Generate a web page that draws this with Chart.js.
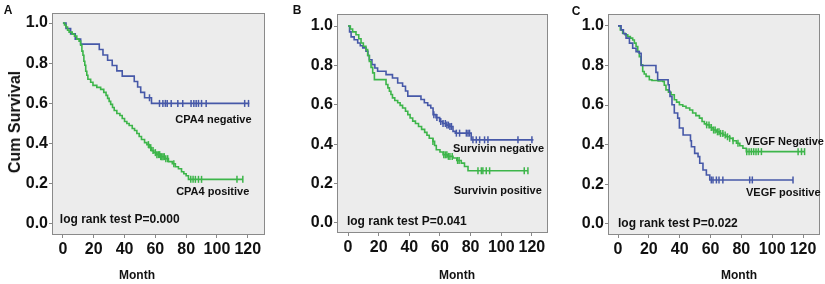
<!DOCTYPE html>
<html>
<head>
<meta charset="utf-8">
<script src="https://cdn.jsdelivr.net/npm/chart.js@4/dist/chart.umd.min.js"></script>
<style>
html, body { margin: 0; padding: 0; background: #fff; }
#wrap { position: relative; width: 825px; height: 284px; overflow: hidden; font-family: 'Liberation Sans', Arial, sans-serif; }
canvas.panel { position: absolute; top: 0; }
.lbl { position: absolute; font-weight: bold; color: #111; white-space: nowrap; line-height: 1; }
.mid { transform: translate(-50%, -50%); }
</style>
</head>
<body>
<div id="wrap">
  <canvas id="cA" class="panel" width="280" height="284" style="left:0px"></canvas>
  <canvas id="cB" class="panel" width="275" height="284" style="left:280px"></canvas>
  <canvas id="cC" class="panel" width="270" height="284" style="left:555px"></canvas>

  <div class="lbl mid" style="left:8px;top:10px;font-size:12px">A</div>
  <div class="lbl mid" style="left:297px;top:10px;font-size:12px">B</div>
  <div class="lbl mid" style="left:576px;top:11px;font-size:12px">C</div>

  <div class="lbl" style="left:15px;top:122px;font-size:16px;transform:translate(-50%,-50%) rotate(-90deg)">Cum Survival</div>

  <div class="lbl mid" style="left:137px;top:275px;font-size:12px">Month</div>
  <div class="lbl mid" style="left:457px;top:275px;font-size:12px">Month</div>
  <div class="lbl mid" style="left:739px;top:275px;font-size:12px">Month</div>
</div>
<script>
// Kaplan-Meier survival curves, three panels (CPA4 / Survivin / VEGF)
const xTicks = [0, 20, 40, 60, 80, 100, 120];
const yTicks = [0, 0.2, 0.4, 0.6, 0.8, 1.0];

// Panel A - CPA4
const cpaNegTime = [0, 2, 5, 8, 11.5, 23.6, 26, 29, 32, 35, 38.5, 46.3, 48.5, 50.5, 53, 57.5, 121];
const cpaNegSurv = [1, 0.973, 0.946, 0.92, 0.895, 0.868, 0.841, 0.815, 0.789, 0.762, 0.736, 0.709, 0.682, 0.655, 0.628, 0.60, 0.60];
const cpaNegCensor = [56.2, 62.7, 64.9, 66.5, 67.7, 70.3, 74.6, 77.8, 83.2, 85, 86.5, 88, 90, 93, 118, 120.5];

const cpaPosTime = [0, 1, 2, 3, 4, 6, 7.5, 9, 10.5, 11.5, 12.3, 13, 13.6, 14.2, 14.8, 15.5, 16.2, 18, 19.5, 22, 24.5, 26.5, 28, 29, 30, 31, 32.2, 33.3, 35, 37, 38.5, 40, 41.5, 43, 45, 46.5, 48, 49.5, 51, 53, 54.5, 56, 57.5, 59, 61, 63.5, 66, 68.5, 71, 73, 75, 77, 78.5, 80, 81.5, 116.8];
const cpaPosSurv = [1, 0.99, 0.98, 0.965, 0.955, 0.945, 0.935, 0.92, 0.91, 0.89, 0.86, 0.84, 0.81, 0.79, 0.76, 0.74, 0.72, 0.705, 0.69, 0.68, 0.67, 0.655, 0.64, 0.625, 0.61, 0.595, 0.58, 0.565, 0.55, 0.54, 0.525, 0.51, 0.5, 0.49, 0.475, 0.465, 0.45, 0.435, 0.42, 0.405, 0.395, 0.38, 0.365, 0.355, 0.345, 0.335, 0.325, 0.31, 0.3, 0.285, 0.275, 0.26, 0.25, 0.24, 0.222, 0.222];
const cpaPosCensor = [55.5, 57, 58.5, 60, 61, 62, 62.8, 63.5, 64.2, 65, 65.8, 66.8, 68, 72, 83, 84.5, 86, 88, 90, 113, 116.8];

// Panel B - Survivin
const survNegTime = [0, 1, 2, 4, 6.3, 8, 9.6, 11.7, 13, 13.9, 15.6, 17.5, 19.3, 24.8, 29, 32.4, 35.6, 37.5, 39, 47.6, 49.8, 52, 54, 55.5, 57.4, 59.8, 61.7, 64, 66.3, 68.5, 70, 80.4, 121];
const survNegSurv = [1, 0.97, 0.945, 0.93, 0.914, 0.9, 0.889, 0.872, 0.85, 0.829, 0.804, 0.787, 0.77, 0.753, 0.736, 0.711, 0.694, 0.67, 0.644, 0.627, 0.61, 0.597, 0.584, 0.55, 0.535, 0.515, 0.505, 0.497, 0.49, 0.465, 0.456, 0.422, 0.422];
const survNegCensor = [56, 58, 60.5, 62, 63.5, 64.5, 65.5, 66.5, 67.5, 70.7, 72.8, 77.2, 78.3, 79.3, 81.5, 83.7, 85.9, 89.1, 91.3, 110.9, 120];

const survPosTime = [0, 1.5, 3, 5.2, 7, 8.5, 10, 11.7, 12.8, 13.9, 15, 16.1, 17.2, 24.8, 26, 27, 28, 29, 30.5, 32.4, 34, 35.6, 37.5, 39, 40.5, 42.2, 44, 46, 48, 50, 51.5, 53, 55.4, 56.5, 57.6, 60, 62, 65, 68.5, 71, 73.9, 76, 78.3, 117.4];
const survPosSurv = [1, 0.985, 0.97, 0.956, 0.935, 0.914, 0.897, 0.88, 0.85, 0.82, 0.79, 0.762, 0.728, 0.703, 0.686, 0.669, 0.652, 0.635, 0.622, 0.61, 0.597, 0.584, 0.567, 0.55, 0.533, 0.517, 0.505, 0.49, 0.475, 0.46, 0.445, 0.43, 0.414, 0.393, 0.372, 0.36, 0.346, 0.338, 0.33, 0.317, 0.304, 0.287, 0.265, 0.265];
const survPosCensor = [55.4, 62.5, 63.5, 64.5, 65.5, 66.5, 68, 71.5, 72.5, 84.8, 87, 88, 90.2, 92.4, 115, 117.4];

// Panel C - VEGF
const vegfNegTime = [0, 1.5, 3, 4.5, 6.3, 8, 9.5, 10.6, 11.7, 12.8, 13.8, 14.9, 16, 17, 18.2, 20.3, 22, 26, 29, 30, 31.1, 32.7, 34.4, 36.5, 38, 39.8, 42, 44.1, 46.5, 48.4, 50.5, 52.8, 54.5, 56, 57.3, 59.5, 61.6, 64, 66, 68.1, 70, 72.4, 74.5, 76.8, 79, 81, 83.2, 121];
const vegfNegSurv = [1, 0.98, 0.963, 0.955, 0.946, 0.938, 0.929, 0.913, 0.896, 0.87, 0.845, 0.803, 0.77, 0.757, 0.745, 0.728, 0.724, 0.722, 0.72, 0.7, 0.677, 0.665, 0.652, 0.627, 0.615, 0.602, 0.594, 0.585, 0.575, 0.56, 0.547, 0.534, 0.517, 0.505, 0.5, 0.487, 0.474, 0.465, 0.457, 0.449, 0.44, 0.432, 0.42, 0.407, 0.395, 0.382, 0.365, 0.365];
const vegfNegCensor = [57.5, 59, 60.5, 62, 63, 64.5, 65.5, 66.5, 68, 69.5, 71, 72.4, 74.6, 77.8, 83.5, 85, 86.5, 88, 89.5, 91, 93, 116.8, 119, 121];

const vegfPosTime = [0, 2, 3.5, 5.2, 7.4, 9.5, 11.7, 13.8, 15, 24.6, 25.7, 32.5, 33.2, 33.7, 35, 36.5, 38.7, 39.8, 42.2, 47, 47.6, 49.7, 51.9, 53, 55.1, 57.3, 59.5, 113.5];
const vegfPosSurv = [1, 0.98, 0.96, 0.938, 0.913, 0.887, 0.87, 0.862, 0.80, 0.765, 0.728, 0.703, 0.67, 0.644, 0.602, 0.56, 0.534, 0.484, 0.449, 0.42, 0.39, 0.356, 0.34, 0.306, 0.272, 0.247, 0.222, 0.222];
const vegfPosCensor = [60.5, 61.6, 63.8, 65.5, 68, 85.4, 87.1, 113.5];

const BLUE = '#4658a8';
const GREEN = '#3db54a';
const FONT = "'Liberation Sans', Arial, sans-serif";

// value of a step curve at time t (for placing censor ticks on the curve)
function survAt(times, surv, t) {
    let v = surv[0];
    for (let i = 0; i < times.length; i++) if (times[i] <= t) v = surv[i];
    return v;
}

const framePlugin = {
    id: 'frame',
    beforeDraw(chart) {
        const a = chart.chartArea, c = chart.ctx;
        c.save();
        c.fillStyle = '#ececec';
        c.fillRect(a.left, a.top, a.right - a.left, a.bottom - a.top);
        c.restore();
    },
    afterDraw(chart, args, opts) {
        const a = chart.chartArea, c = chart.ctx;
        c.save();
        c.strokeStyle = '#8a8a8a';
        c.lineWidth = 1;
        c.strokeRect(a.left + 0.5, a.top + 0.5, a.right - a.left - 1, a.bottom - a.top - 1);
        c.fillStyle = '#111';
        c.textAlign = 'left';
        c.textBaseline = 'middle';
        (opts.notes || []).forEach(n => {
            c.font = 'bold ' + n.size + 'px ' + FONT;
            c.fillText(n.text, chart.scales.x.getPixelForValue(n.x), chart.scales.y.getPixelForValue(n.y));
        });
        c.restore();
    }
};

function groupSets(times, surv, censor, color) {
    return [
        { data: times.map((t, i) => ({ x: t, y: surv[i] })), stepped: true, borderColor: color, borderWidth: 1.6, pointRadius: 0, fill: false },
        { data: censor.map(t => ({ x: t, y: survAt(times, surv, t) })), showLine: false, borderColor: color,
          pointStyle: 'line', pointRotation: 90, pointRadius: 3.5, pointBorderWidth: 1.5, pointBorderColor: color, pointHoverRadius: 0 }
    ];
}

function buildPanel(p) {
    const tickFont = { family: FONT, size: 16, weight: 'bold' };
    new Chart(document.getElementById(p.id), {
        type: 'line',
        data: { datasets: p.sets },
        plugins: [framePlugin],
        options: {
            responsive: false, animation: false, devicePixelRatio: 1,
            layout: { padding: { top: p.top, right: p.right, left: 0, bottom: 0 } },
            plugins: { legend: { display: false }, tooltip: { enabled: false }, frame: { notes: p.notes } },
            scales: {
                x: {
                    type: 'linear', min: p.xMin, max: p.xMax,
                    afterBuildTicks: s => { s.ticks = xTicks.map(v => ({ value: v })); },
                    afterFit: s => { s.height = p.xh; },
                    ticks: { font: tickFont, color: '#111', padding: 2, maxRotation: 0, minRotation: 0, autoSkip: false, callback: v => String(v) },
                    grid: { drawOnChartArea: false, drawTicks: true, tickLength: 3, color: '#888' },
                    border: { display: false }
                },
                y: {
                    min: p.yMin, max: p.yMax,
                    afterBuildTicks: s => { s.ticks = yTicks.map(v => ({ value: v })); },
                    afterFit: s => { s.width = p.yw; },
                    ticks: { font: tickFont, color: '#111', padding: 1, autoSkip: false, callback: v => Number(v).toFixed(1) },
                    grid: { drawOnChartArea: false, drawTicks: true, tickLength: 3, color: '#888' },
                    border: { display: false }
                }
            }
        }
    });
}

function init() {
    buildPanel({
        id: 'cA', top: 13, right: 15, yw: 52, xh: 49, xMin: -7.1, xMax: 131.2, yMin: -0.055, yMax: 1.05,
        sets: [...groupSets(cpaPosTime, cpaPosSurv, cpaPosCensor, GREEN), ...groupSets(cpaNegTime, cpaNegSurv, cpaNegCensor, BLUE)],
        notes: [
            { text: 'CPA4 negative', x: 73, y: 0.52, size: 11 },
            { text: 'CPA4 positive', x: 73.5, y: 0.157, size: 11 },
            { text: 'log rank test P=0.000', x: -2, y: 0.02, size: 12 }
        ]
    });
    buildPanel({
        id: 'cB', top: 14, right: 7, yw: 57, xh: 51, xMin: -7.2, xMax: 130.5, yMin: -0.051, yMax: 1.061,
        sets: [...groupSets(survPosTime, survPosSurv, survPosCensor, GREEN), ...groupSets(survNegTime, survNegSurv, survNegCensor, BLUE)],
        notes: [
            { text: 'Survivin negative', x: 68.5, y: 0.376, size: 11 },
            { text: 'Survivin positive', x: 69, y: 0.162, size: 11 },
            { text: 'log rank test P=0.041', x: -0.7, y: 0.005, size: 12 }
        ]
    });
    buildPanel({
        id: 'cC', top: 14, right: 5, yw: 53, xh: 49, xMin: -6.5, xMax: 131, yMin: -0.056, yMax: 1.06,
        sets: [...groupSets(vegfPosTime, vegfPosSurv, vegfPosCensor, BLUE), ...groupSets(vegfNegTime, vegfNegSurv, vegfNegCensor, GREEN)],
        notes: [
            { text: 'VEGF Negative', x: 82.4, y: 0.414, size: 11 },
            { text: 'VEGF positive', x: 83, y: 0.157, size: 11 },
            { text: 'log rank test P=0.022', x: 0, y: 0.0, size: 12 }
        ]
    });
}
if (document.readyState === 'loading') document.addEventListener('DOMContentLoaded', init);
else init();
</script>
</body>
</html>
